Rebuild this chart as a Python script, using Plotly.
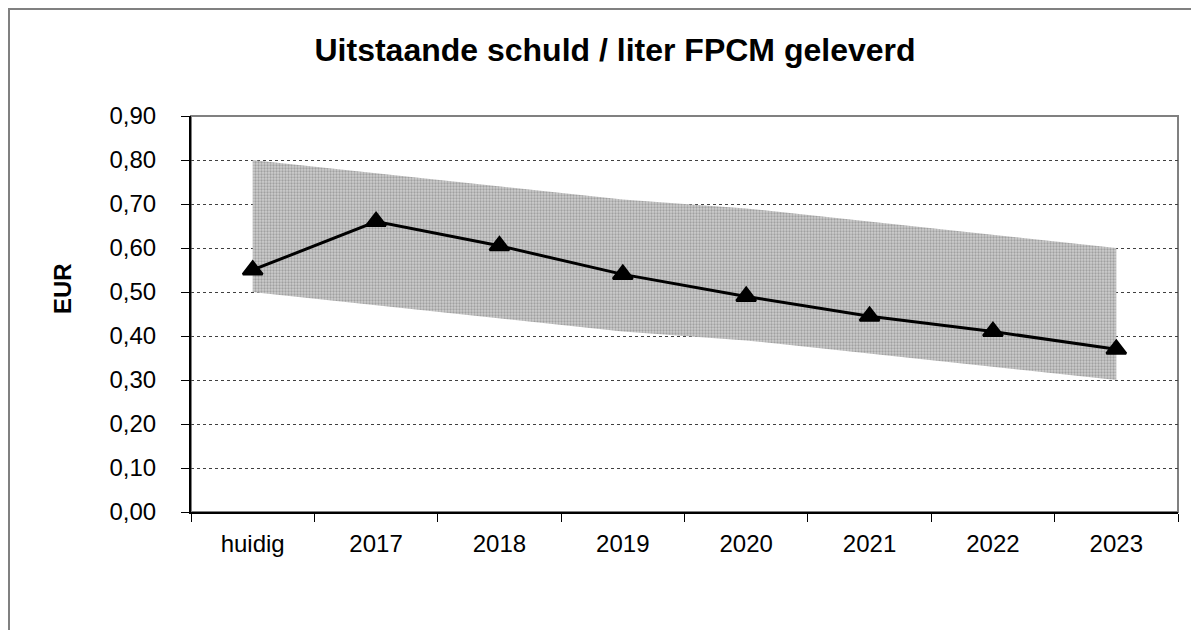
import plotly.graph_objects as go

categories = ["huidig", "2017", "2018", "2019", "2020", "2021", "2022", "2023"]
schuld = [0.55, 0.66, 0.605, 0.54, 0.49, 0.445, 0.41, 0.37]
band_upper = [0.80, 0.77, 0.74, 0.71, 0.69, 0.66, 0.63, 0.60]
band_lower = [0.50, 0.47, 0.44, 0.41, 0.39, 0.36, 0.33, 0.30]
y_ticks = [0, 0.1, 0.2, 0.3, 0.4, 0.5, 0.6, 0.7, 0.8, 0.9]
y_labels = ["0,00", "0,10", "0,20", "0,30", "0,40", "0,50", "0,60", "0,70", "0,80", "0,90"]

FONT = "Liberation Sans, Arial, sans-serif"

fig = go.Figure()
fig.add_trace(go.Scatter(x=categories, y=band_lower, mode="lines", line=dict(width=0),
                         showlegend=False, hoverinfo="skip"))
fig.add_trace(go.Scatter(x=categories, y=band_upper, mode="lines", line=dict(width=0),
                         fill="tonexty", fillcolor="#bdbdbd",
                         fillpattern=dict(shape=".", fgcolor="#747474", bgcolor="#cdcdcd", size=3, solidity=0.45),
                         showlegend=False, hoverinfo="skip"))
fig.add_trace(go.Scatter(x=categories, y=schuld, mode="lines+markers",
                         line=dict(color="black", width=3),
                         marker=dict(symbol="triangle-up", size=17, color="black",
                                     line=dict(color="black", width=2.5)),
                         showlegend=False))

# page body has an 8px margin; figure coordinates = window coordinates - 8
OFF = 8
W, H = 1199 - 2 * OFF, 638 - 2 * OFF
L = 191 - OFF
T = 116 - OFF
R = W - (1178 - OFF)
B = H - (512 - OFF)
pw = W - L - R
ph = H - T - B

def px(xwin):
    return (xwin - OFF - L) / pw

def py(ywin):
    return (H - B - (ywin - OFF)) / ph

shapes = [
    # outer chart border
    dict(type="rect", xref="paper", yref="paper", x0=px(9), x1=px(1240), y0=py(700), y1=py(9),
         line=dict(color="#808080", width=2), layer="below"),
    # plot area border
    dict(type="rect", xref="paper", yref="paper", x0=0, x1=1, y0=0, y1=1,
         line=dict(color="#808080", width=2), layer="below"),
]

annotations = [
    dict(text="<b>EUR</b>", xref="paper", yref="paper", x=px(62), y=py(289),
         xanchor="center", yanchor="middle", textangle=-90, showarrow=False,
         font=dict(size=24, family=FONT, color="black")),
]

fig.update_layout(
    width=W, height=H,
    margin=dict(l=L, r=R, t=T, b=B),
    paper_bgcolor="white", plot_bgcolor="white",
    font=dict(family=FONT, size=24, color="black"),
    title=dict(text="<b>Uitstaande schuld / liter FPCM geleverd</b>", xref="container",
               x=(615 - OFF) / W, xanchor="center",
               yref="container", y=1 - (50 - OFF) / H, yanchor="middle",
               font=dict(size=32, family=FONT, color="black")),
    shapes=shapes,
    annotations=annotations,
    xaxis=dict(type="category", range=[-0.5, 7.5], showgrid=False, showline=True,
               linecolor="black", linewidth=2, ticks="outside", tickson="boundaries",
               ticklen=8, tickcolor="black", tickfont=dict(size=24), zeroline=False,
               ticklabelstandoff=9),
    yaxis=dict(range=[0, 0.9], tickvals=y_ticks, ticktext=y_labels, showgrid=True,
               gridcolor="#404040", griddash="dot", gridwidth=1, showline=True,
               linecolor="black", linewidth=2, ticks="outside", ticklen=8, tickcolor="black",
               tickfont=dict(size=24), zeroline=False, ticklabelstandoff=20),
)

fig.write_html("out.html")
